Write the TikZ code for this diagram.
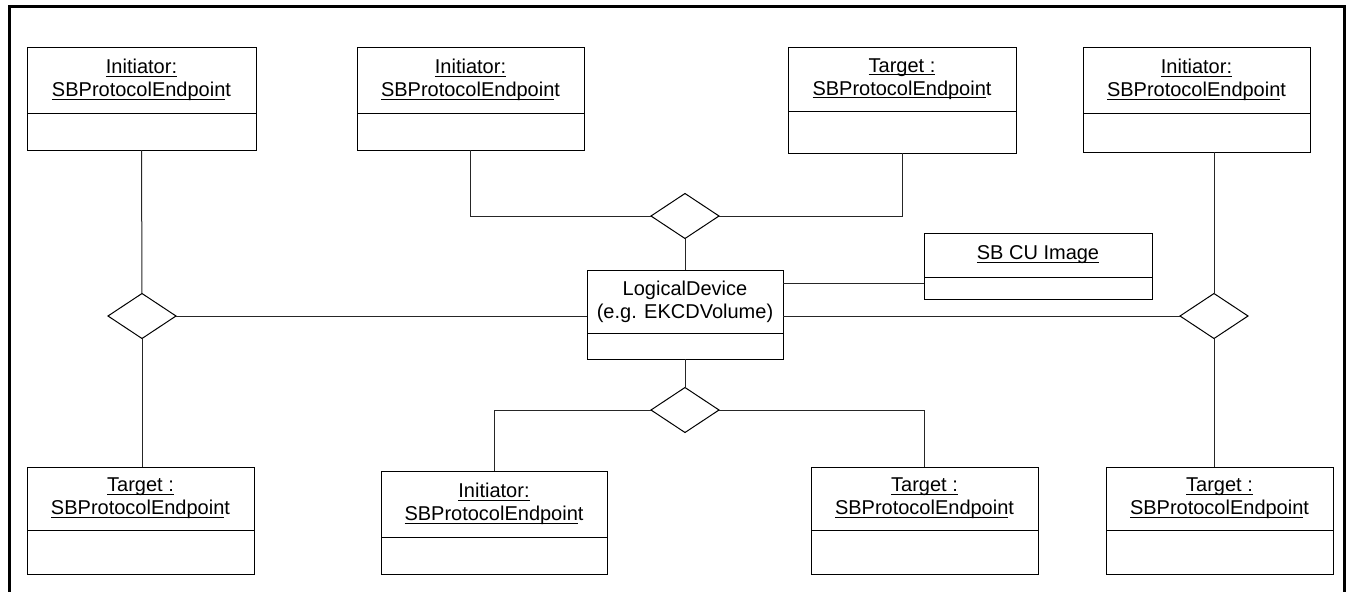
\documentclass[tikz,border=0pt]{standalone}
\usepackage{fontspec}
\setmainfont{Liberation Sans}
\usetikzlibrary{shapes.geometric}
\newcommand\ulx[1]{\setbox0=\hbox{#1}\rlap{\rule[-3pt]{\wd0}{1pt}}\box0}
\newcommand\umlclass[7]{%
  \node[classbox, minimum width={#3-#2}, minimum height={#6-#4}] (#1) at ({(#2+#3)/2},{(#4+#6)/2}) {};
  \draw[boxline] (#1.west |- 0,#5) -- (#1.east |- 0,#5);
  \node[classtext] (#1-t) at ({(#2+#3)/2},{(#4+#5)/2}) {#7};
}
\tikzset{
  classbox/.style={draw=black, line width=1pt, rectangle, inner sep=0pt, outer sep=0pt, fill=white},
  boxline/.style={draw=black, line width=1pt},
  classtext/.style={inner sep=0pt, align=center, font=\fontsize{20}{23}\selectfont},
  assoc/.style={draw, diamond, line width=1pt, minimum width=68pt, minimum height=45pt, inner sep=0pt, outer sep=0pt, fill=white},
  conn/.style={line width=1pt, draw=black!85},
  frame/.style={line width=3pt, draw=black}
}
\newcommand\initxt{\ulx{Initiator:}\\\ulx{SBProtocolEndpoin}t}
\newcommand\tartxt{\ulx{Target :}\\\ulx{SBProtocolEndpoin}t}
\begin{document}
\begin{tikzpicture}[x=1pt,y=-1pt]
\useasboundingbox (0,0) rectangle (1353,592);
\draw[frame] (9,6) rectangle (1344,594);
% class boxes
\umlclass{itl}{27}{256}{47}{113}{150}{\initxt}
\umlclass{itm}{357}{584}{47}{113}{150}{\initxt}
\umlclass{ttm}{788}{1016}{47}{111}{153}{\tartxt}
\umlclass{itr}{1083}{1310}{47}{113}{152}{\initxt}
\umlclass{tbl}{27}{254}{467}{530}{574}{\tartxt}
\umlclass{ibm}{381}{607}{471}{537}{574}{\initxt}
\umlclass{tbm}{811}{1038}{467}{530}{574}{\tartxt}
\umlclass{tbr}{1106}{1333}{467}{530}{574}{\tartxt}
\umlclass{ld}{587}{783}{270}{333}{359}{LogicalDevice\\(e.g. EKCDVolume)}
\umlclass{cu}{924}{1152}{233}{277}{299}{\ulx{SB CU Image}}
% association diamonds
\node[assoc] (dl) at (142,316) {};
\node[assoc] (dt) at (685,216) {};
\node[assoc] (db) at (685,410) {};
\node[assoc] (dr) at (1214,316) {};
\coordinate (cuin) at (924,283);
% connectors
\draw[conn] (itl.south) -- (dl.north);
\draw[conn] (dl.south) -- (dl.south |- tbl.north);
\draw[conn] (dl.east) -- (dl.east -| ld.west);
\draw[conn] (itm.south) -- (itm.south |- dt.west) -- (dt.west);
\draw[conn] (dt.east) -- (ttm.south |- dt.east) -- (ttm.south);
\draw[conn] (dt.south) -- (ld.north);
\draw[conn] (ld.south) -- (db.north);
\draw[conn] (db.west) -- (ibm.north |- db.west) -- (ibm.north);
\draw[conn] (db.east) -- (tbm.north |- db.east) -- (tbm.north);
\draw[conn] (ld.east |- cuin) -- (cuin);
\draw[conn] (ld.east |- dr.west) -- (dr.west);
\draw[conn] (dr.north |- itr.south) -- (dr.north);
\draw[conn] (dr.south) -- (dr.south |- tbr.north);
\end{tikzpicture}
\end{document}
